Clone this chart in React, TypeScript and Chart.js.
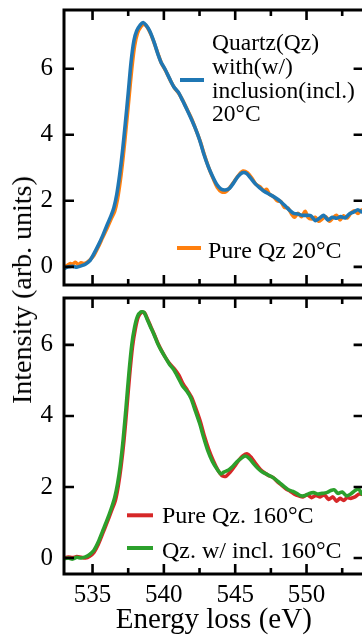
import React, { useEffect, useRef } from "react";
import { Chart, registerables } from "chart.js";
Chart.register(...registerables);

// ---------- data ----------
const eInclRT = [533.0,533.3,533.6,533.9,534.2,534.5,534.8,535.1,535.4,535.7,536.0,536.3,536.5,536.7,536.9,537.1,537.3,537.5,537.7,537.9,538.1,538.35,538.55,538.75,539.0,539.3,539.6,539.8,540.1,540.4,540.7,541.0,541.3,541.6,541.9,542.2,542.5,542.8,543.1,543.4,543.7,544.0,544.3,544.6,544.9,545.2,545.5,545.8,546.1,546.4,546.7,547.0,547.3,547.6,547.9,548.2,548.5,548.8,549.1,549.4,549.7,550.0,550.3,550.6,550.9,551.2,551.5,551.8,552.1,552.4,552.7,553.0,553.3,553.6,553.9,554.2];
const iInclRT = [-0.05,0.0,0.02,-0.01,0.03,0.08,0.18,0.4,0.65,0.93,1.25,1.55,1.8,2.2,2.78,3.5,4.35,5.25,6.2,6.85,7.15,7.33,7.4,7.32,7.15,6.82,6.42,6.2,5.97,5.7,5.45,5.3,5.05,4.78,4.5,4.2,3.85,3.42,3.05,2.75,2.5,2.36,2.33,2.38,2.55,2.74,2.85,2.83,2.68,2.52,2.4,2.3,2.22,2.15,2.07,1.97,1.85,1.72,1.62,1.6,1.56,1.56,1.55,1.4,1.47,1.56,1.42,1.5,1.47,1.52,1.48,1.6,1.66,1.73,1.66,1.68];

const ePureRT = [533.0,533.25,533.45,533.6,533.8,534.0,534.2,534.4,534.6,534.85,535.1,535.4,535.7,536.0,536.3,536.55,536.75,536.95,537.15,537.35,537.55,537.75,537.95,538.15,538.4,538.6,538.8,539.05,539.35,539.65,539.85,540.15,540.45,540.75,541.05,541.35,541.65,541.95,542.25,542.55,542.85,543.15,543.45,543.75,544.05,544.35,544.65,544.95,545.25,545.55,545.85,546.15,546.45,546.75,547.0,547.2,547.4,547.7,547.95,548.2,548.45,548.7,548.95,549.15,549.4,549.65,549.9,550.1,550.35,550.6,550.85,551.1,551.35,551.6,551.85,552.1,552.35,552.6,552.85,553.1,553.35,553.6,553.85,554.2];
const iPureRT = [-0.02,0.05,0.1,0.08,0.14,0.07,0.12,0.1,0.13,0.22,0.35,0.6,0.88,1.15,1.45,1.68,2.05,2.62,3.35,4.2,5.1,6.0,6.7,7.08,7.28,7.35,7.28,7.08,6.75,6.38,6.15,5.92,5.65,5.42,5.25,5.02,4.75,4.48,4.15,3.8,3.38,3.0,2.68,2.4,2.27,2.28,2.42,2.6,2.78,2.9,2.85,2.7,2.5,2.42,2.3,2.35,2.2,2.12,2.0,1.98,1.8,1.78,1.6,1.5,1.62,1.52,1.68,1.5,1.45,1.5,1.38,1.45,1.52,1.38,1.48,1.56,1.42,1.55,1.48,1.62,1.7,1.62,1.72,1.65];

const ePureHT = [533.0,533.3,533.6,533.9,534.2,534.5,534.8,535.1,535.4,535.7,536.0,536.3,536.6,536.8,537.0,537.2,537.4,537.6,537.8,538.0,538.2,538.45,538.65,538.85,539.1,539.35,539.6,539.85,540.15,540.45,540.75,541.05,541.35,541.65,541.95,542.25,542.55,542.85,543.15,543.45,543.75,544.05,544.35,544.65,544.95,545.25,545.55,545.85,546.15,546.45,546.75,547.05,547.35,547.65,547.95,548.25,548.55,548.85,549.15,549.45,549.75,550.05,550.35,550.65,550.95,551.25,551.55,551.85,552.1,552.35,552.6,552.85,553.1,553.4,553.7,554.2];
const iPureHT = [0.0,0.03,0.01,0.04,0.02,0.0,0.05,0.16,0.38,0.68,0.98,1.3,1.62,2.02,2.58,3.3,4.2,5.15,5.95,6.45,6.78,6.92,6.9,6.73,6.5,6.27,6.03,5.83,5.62,5.45,5.32,5.15,4.9,4.72,4.52,4.2,3.85,3.42,3.05,2.75,2.5,2.33,2.3,2.42,2.58,2.75,2.88,2.93,2.82,2.65,2.5,2.4,2.32,2.27,2.15,2.05,1.95,1.88,1.8,1.75,1.72,1.78,1.7,1.76,1.72,1.78,1.65,1.72,1.6,1.68,1.62,1.7,1.68,1.72,1.8,1.76];

const eInclHT = [533.0,533.3,533.6,533.9,534.2,534.5,534.8,535.1,535.4,535.7,536.0,536.3,536.55,536.75,536.95,537.15,537.35,537.55,537.75,537.95,538.15,538.4,538.6,538.8,539.05,539.3,539.55,539.8,540.1,540.4,540.7,541.0,541.3,541.6,541.9,542.2,542.5,542.8,543.1,543.4,543.7,544.0,544.2,544.5,544.8,545.1,545.4,545.7,546.0,546.3,546.6,546.9,547.2,547.5,547.8,548.1,548.4,548.7,549.0,549.3,549.6,549.9,550.2,550.5,550.8,551.1,551.4,551.7,551.95,552.2,552.5,552.8,553.1,553.4,553.65,553.9,554.2];
const iInclHT = [-0.02,0.0,-0.03,0.02,0.0,0.03,0.1,0.22,0.45,0.75,1.05,1.38,1.7,2.08,2.62,3.35,4.25,5.2,6.0,6.5,6.8,6.93,6.92,6.75,6.52,6.3,6.05,5.85,5.65,5.45,5.3,5.08,4.85,4.7,4.5,4.15,3.8,3.38,3.0,2.72,2.52,2.37,2.42,2.47,2.57,2.7,2.8,2.87,2.8,2.65,2.52,2.42,2.36,2.3,2.22,2.12,2.02,1.93,1.88,1.82,1.75,1.76,1.82,1.84,1.8,1.82,1.84,1.9,1.92,1.82,1.86,1.75,1.8,1.9,1.95,1.8,1.82];

const labelInclRT = ["Quartz(Qz)", "with(w/)", "inclusion(incl.)", "20°C"];
const labelPureRT = ["Pure Qz 20°C"];
const labelPureHT = ["Pure Qz. 160°C"];
const labelInclHT = ["Qz. w/ incl. 160°C"];

const xTicks = [535, 540, 545, 550];
const xMinorTicks = [532.5, 537.5, 542.5, 547.5, 552.5];
const yTicks = [0, 2, 4, 6];
const xTitle = "Energy loss (eV)";
const yTitle = "Intensity (arb. units)";

// ---------- styling ----------
const SERIF = "'Liberation Serif', 'DejaVu Serif', serif";
const C_BLUE = "#1f77b4";
const C_ORANGE = "#ff7f0e";
const C_RED = "#d62728";
const C_GREEN = "#2ca02c";

const toXY = (xs: number[], ys: number[]) => xs.map((x, i) => ({ x, y: ys[i] }));

const framePlugin = {
  id: "frame",
  afterDraw(chart: any, _args: any, opts: any) {
    const ctx = chart.ctx;
    const { left, right, top, bottom } = chart.chartArea;
    const xs = chart.scales.x;
    const ys = chart.scales.y;
    ctx.save();
    ctx.strokeStyle = "#000";
    ctx.lineWidth = 2.6;
    ctx.lineCap = "butt";
    ctx.beginPath();
    const drawX = (vals: number[], len: number) => {
      vals.forEach((v) => {
        const px = xs.getPixelForValue(v);
        if (px < left - 0.5 || px > right + 0.5) return;
        ctx.moveTo(px, bottom);
        ctx.lineTo(px, bottom - len);
        ctx.moveTo(px, top);
        ctx.lineTo(px, top + len);
      });
    };
    drawX(xTicks, 10);
    drawX(xMinorTicks, 6);
    yTicks.forEach((v) => {
      const py = ys.getPixelForValue(v);
      ctx.moveTo(left, py);
      ctx.lineTo(left + 10, py);
      ctx.moveTo(right, py);
      ctx.lineTo(right - 10, py);
    });
    ctx.stroke();
    ctx.lineWidth = 3;
    ctx.strokeRect(left, top, right - left, bottom - top);
    // legend
    (opts.items || []).forEach((it: any) => {
      const ds = chart.data.datasets[it.index];
      ctx.strokeStyle = ds.borderColor;
      ctx.lineWidth = 4;
      ctx.beginPath();
      ctx.moveTo(it.x0, it.ly);
      ctx.lineTo(it.x1, it.ly);
      ctx.stroke();
      ctx.fillStyle = "#000";
      ctx.font = `${it.size}px ${SERIF}`;
      ctx.textBaseline = "alphabetic";
      ctx.textAlign = "left";
      const lines: string[] = ds.labelLines;
      lines.forEach((ln, k) => ctx.fillText(ln, it.tx, it.ty + k * it.lh));
    });
    ctx.restore();
  },
};

function makeConfig(datasets: any[], yMin: number, yMax: number, showX: boolean, xH: number, items: any[]) {
  return {
    type: "line",
    data: { datasets },
    plugins: [framePlugin],
    options: {
      responsive: false,
      animation: false,
      events: [],
      layout: { padding: { left: 0, top: 10, right: 6.4, bottom: 0 } },
      elements: { point: { radius: 0 }, line: { tension: 0.25, borderWidth: 3.6, borderCapStyle: "round", borderJoinStyle: "round" } },
      plugins: { legend: { display: false }, tooltip: { enabled: false }, frame: { items } },
      scales: {
        x: {
          type: "linear",
          min: 533,
          max: 554,
          afterBuildTicks: (s: any) => { s.ticks = xTicks.map((v) => ({ value: v })); },
          afterFit: (s: any) => { s.height = xH; s.paddingLeft = 0; s.paddingRight = 0; },
          grid: { display: false, drawTicks: false },
          border: { display: false },
          ticks: { display: showX, padding: 6, color: "#000", font: { family: SERIF, size: 25 }, maxRotation: 0 },
          title: { display: showX, text: xTitle, color: "#000", font: { family: SERIF, size: 29 }, padding: { top: 0, bottom: 0 } },
        },
        y: {
          type: "linear",
          min: yMin,
          max: yMax,
          afterBuildTicks: (s: any) => { s.ticks = yTicks.map((v) => ({ value: v })); },
          afterFit: (s: any) => { s.width = 64; s.paddingTop = 0; s.paddingBottom = 0; },
          grid: { display: false, drawTicks: false },
          border: { display: false },
          ticks: { padding: 11, color: "#000", font: { family: SERIF, size: 25 } },
        },
      },
    },
  };
}

export default function App() {
  const topRef = useRef<HTMLCanvasElement>(null);
  const botRef = useRef<HTMLCanvasElement>(null);

  useEffect(() => {
    const top = new Chart(
      topRef.current as HTMLCanvasElement,
      makeConfig(
        [
          { label: labelInclRT.join(" "), labelLines: labelInclRT, data: toXY(eInclRT, iInclRT), borderColor: C_BLUE, fill: false },
          { label: labelPureRT.join(" "), labelLines: labelPureRT, data: toXY(ePureRT, iPureRT), borderColor: C_ORANGE, fill: false },
        ],
        -0.55,
        7.78,
        false,
        13,
        [
          { index: 0, x0: 180, x1: 204, ly: 80, tx: 212, ty: 50, lh: 23.8, size: 23.5 },
          { index: 1, x0: 177, x1: 201, ly: 248, tx: 208, ty: 258, lh: 24, size: 24 },
        ]
      ) as any
    );
    const bot = new Chart(
      botRef.current as HTMLCanvasElement,
      makeConfig(
        [
          { label: labelInclHT.join(" "), labelLines: labelInclHT, data: toXY(eInclHT, iInclHT), borderColor: C_GREEN, fill: false },
          { label: labelPureHT.join(" "), labelLines: labelPureHT, data: toXY(ePureHT, iPureHT), borderColor: C_RED, fill: false },
        ],
        -0.45,
        7.32,
        true,
        64,
        [
          { index: 1, x0: 127, x1: 153, ly: 227.3, tx: 162, ty: 235, lh: 24, size: 24 },
          { index: 0, x0: 127, x1: 153, ly: 260, tx: 162, ty: 270, lh: 24, size: 24 },
        ]
      ) as any
    );
    return () => {
      top.destroy();
      bot.destroy();
    };
  }, []);

  return (
    <div style={{ position: "absolute", left: 0, top: 0, width: 362, height: 638, overflow: "hidden", background: "#fff" }}>
      <canvas ref={topRef} width={370} height={298} style={{ position: "absolute", left: 0, top: 0, width: 370, height: 298 }} />
      <canvas ref={botRef} width={370} height={350} style={{ position: "absolute", left: 0, top: 288, width: 370, height: 350 }} />
      <div
        style={{
          position: "absolute",
          left: 22,
          top: 290,
          transform: "translate(-50%, -50%) rotate(-90deg)",
          whiteSpace: "nowrap",
          fontFamily: SERIF,
          fontSize: 28,
          lineHeight: "32px",
          color: "#000",
        }}
      >
        {yTitle}
      </div>
    </div>
  );
}
